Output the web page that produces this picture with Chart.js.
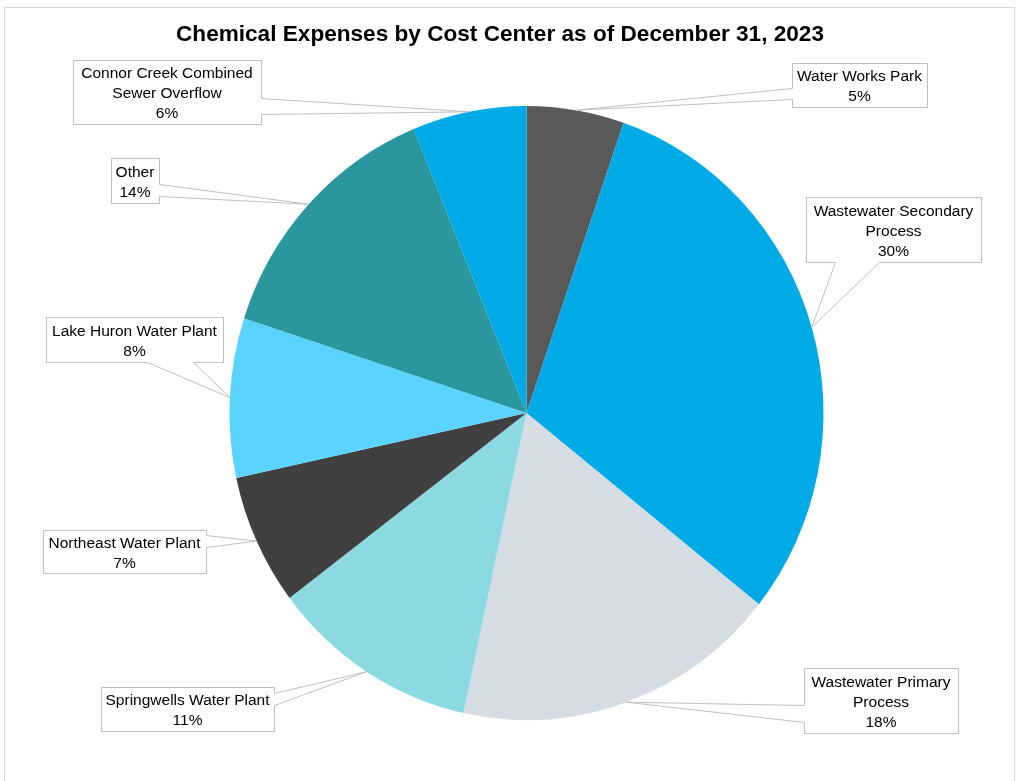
<!DOCTYPE html>
<html>
<head>
    <title>Chemical Expenses by Cost Center</title>
    <script src="https://cdn.jsdelivr.net/npm/chart.js"></script>
    <style>
        body { margin: 0; background: #fff; }
        #wrap { width: 1018px; height: 781px; }
    </style>
</head>
<body>
    <div id="wrap"><canvas id="pieChart" width="1018" height="781"></canvas></div>
    <script>
        // data, clockwise from 12 o'clock
        const categories = [
            ['Water Works Park'],
            ['Wastewater Secondary', 'Process'],
            ['Wastewater Primary', 'Process'],
            ['Springwells Water Plant'],
            ['Northeast Water Plant'],
            ['Lake Huron Water Plant'],
            ['Other'],
            ['Connor Creek Combined', 'Sewer Overflow']
        ];
        const shares = [5.3, 30.4, 17.7, 11.3, 6.9, 8.4, 13.8, 6.2];
        const colors = ['#595959', '#00AAE6', '#D6DCE4', '#8BDAE2', '#404040', '#5AD3FE', '#2A979E', '#00AAE6'];
        const title = 'Chemical Expenses by Cost Center as of December 31, 2023';

        // callout boxes: side = edge the pointer leaves from, a/b = where on that edge
        const boxes = [
            { x: 792, y: 63, w: 135, h: 44, side: 'left', a: 88, b: 99 },
            { x: 806, y: 197, w: 175, h: 65, side: 'bottom', a: 835, b: 879 },
            { x: 804, y: 668, w: 154, h: 65, side: 'left', a: 705, b: 722 },
            { x: 101, y: 687, w: 173, h: 44, side: 'right', a: 693, b: 705 },
            { x: 43, y: 530, w: 163, h: 43, side: 'right', a: 535, b: 547 },
            { x: 46, y: 317, w: 177, h: 45, side: 'bottom', a: 147, b: 193 },
            { x: 111, y: 158, w: 48, h: 45, side: 'right', a: 184, b: 196 },
            { x: 73, y: 60, w: 188, h: 64, side: 'right', a: 98, b: 114 }
        ];

        const stretchY = 307 / 297; // the original pie is a bit taller than wide
        const FONT = '"Liberation Sans", Arial, sans-serif';

        // stretch the pie vertically round its centre
        const ellipsePlugin = {
            id: 'ellipse',
            beforeDatasetsDraw(chart) {
                const arc = chart.getDatasetMeta(0).data[0];
                const c = chart.ctx;
                c.save();
                c.translate(arc.x, arc.y);
                c.scale(1, stretchY);
                c.translate(-arc.x, -arc.y);
            },
            afterDatasetsDraw(chart) {
                chart.ctx.restore();
            }
        };

        // frame, title and the speech-bubble labels
        const calloutPlugin = {
            id: 'callouts',
            beforeDraw(chart) {
                const c = chart.ctx;
                c.save();
                c.strokeStyle = '#D9D9D9';
                c.lineWidth = 1;
                c.strokeRect(4.5, 7.5, 1010, 790);
                c.restore();
            },
            afterDraw(chart) {
                const c = chart.ctx;
                const meta = chart.getDatasetMeta(0);
                const total = shares.reduce((s, v) => s + v, 0);
                c.save();
                c.fillStyle = '#000';
                c.font = 'bold 22.6px ' + FONT;
                c.textAlign = 'center';
                c.textBaseline = 'middle';
                c.fillText(title, 500, 35);

                meta.data.forEach((arc, i) => {
                    const mid = (arc.startAngle + arc.endAngle) / 2;
                    const ax = arc.x + arc.outerRadius * Math.cos(mid);
                    const ay = arc.y + arc.outerRadius * Math.sin(mid) * stretchY;
                    const b = boxes[i];
                    const L = b.x + 0.5, T = b.y + 0.5, R = b.x + b.w + 0.5, B = b.y + b.h + 0.5;
                    c.beginPath();
                    c.moveTo(L, T);
                    c.lineTo(R, T);
                    if (b.side === 'right') {
                        c.lineTo(R, b.a + 0.5); c.lineTo(ax, ay); c.lineTo(R, b.b + 0.5);
                    }
                    c.lineTo(R, B);
                    if (b.side === 'bottom') {
                        c.lineTo(b.b + 0.5, B); c.lineTo(ax, ay); c.lineTo(b.a + 0.5, B);
                    }
                    c.lineTo(L, B);
                    if (b.side === 'left') {
                        c.lineTo(L, b.b + 0.5); c.lineTo(ax, ay); c.lineTo(L, b.a + 0.5);
                    }
                    c.closePath();
                    c.fillStyle = '#fff';
                    c.fill();
                    c.strokeStyle = '#BFBFBF';
                    c.lineWidth = 1;
                    c.stroke();

                    const lines = categories[i].concat([Math.round(shares[i] / total * 100) + '%']);
                    const cy = b.y + b.h / 2 - (lines.length - 1) * 10 + 2;
                    c.fillStyle = '#000';
                    c.font = '15.5px ' + FONT;
                    lines.forEach((t, k) => c.fillText(t, b.x + b.w / 2, cy + k * 20));
                });
                c.restore();
            }
        };

        const chart = new Chart(document.getElementById('pieChart'), {
            type: 'pie',
            data: {
                labels: categories.map(l => l.join(' ')),
                datasets: [{
                    data: shares,
                    backgroundColor: colors,
                    borderWidth: 0,
                    clip: false
                }]
            },
            options: {
                responsive: false,
                animation: false,
                layout: {
                    padding: { left: 229.5, right: 194.5, top: 116, bottom: 71 }
                },
                plugins: {
                    legend: { display: false },
                    tooltip: { enabled: false }
                }
            },
            plugins: [ellipsePlugin, calloutPlugin]
        });
    </script>
</body>
</html>
